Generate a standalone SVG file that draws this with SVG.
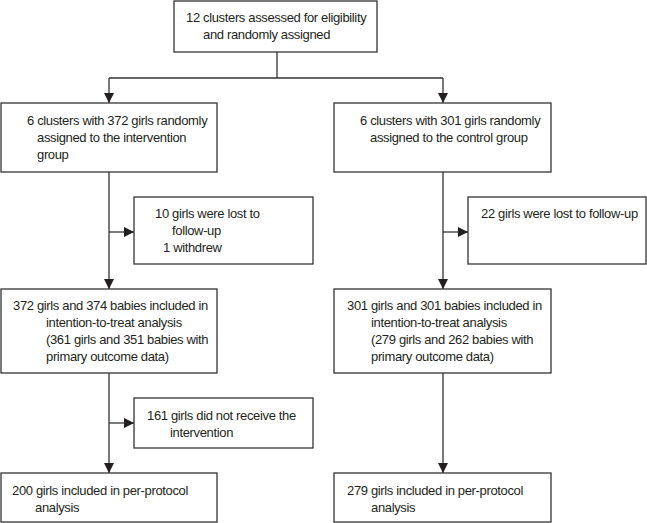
<svg xmlns="http://www.w3.org/2000/svg" width="647" height="523" viewBox="0 0 647 523">
<defs>
<style>
rect{fill:#fff;stroke:#333;stroke-width:1.3}
text{font-family:"Liberation Sans",Arial,sans-serif;font-size:13px;letter-spacing:-0.35px;fill:#231f20}
.c path{fill:none;stroke:#333;stroke-width:1.3}
</style>
<marker id="ah" markerUnits="userSpaceOnUse" markerWidth="11" markerHeight="11" refX="10" refY="5.5" orient="auto">
<path d="M0,0.5 L10,5.5 L0,10.5 z" fill="#231f20"/>
</marker>
</defs>
<g class="c" id="connectors">
<path d="M277,52 V78"/>
<path d="M109,78 H443"/>
<path d="M109,78 V103" marker-end="url(#ah)"/>
<path d="M443,78 V103" marker-end="url(#ah)"/>
<path d="M109,172 V289" marker-end="url(#ah)"/>
<path d="M109,232 H134" marker-end="url(#ah)"/>
<path d="M109,373 V473" marker-end="url(#ah)"/>
<path d="M109,423 H134" marker-end="url(#ah)"/>
<path d="M443,172 V289" marker-end="url(#ah)"/>
<path d="M443,232 H468" marker-end="url(#ah)"/>
<path d="M443,373 V473" marker-end="url(#ah)"/>
</g>
<g id="n-top"><rect x="174" y="1" width="203" height="51"/>
<text x="186" y="22">12 clusters assessed for eligibility</text>
<text x="203" y="39">and randomly assigned</text></g>
<g id="n-int"><rect x="1" y="103" width="216" height="69"/>
<text x="27" y="125">6 clusters with 372 girls randomly</text>
<text x="37" y="142">assigned to the intervention</text>
<text x="37" y="159">group</text></g>
<g id="n-ctl"><rect x="334" y="103" width="217" height="69"/>
<text x="360" y="125">6 clusters with 301 girls randomly</text>
<text x="370" y="142">assigned to the control group</text></g>
<g id="n-lost-int"><rect x="134" y="197" width="179" height="67"/>
<text x="155" y="218">10 girls were lost to</text>
<text x="172" y="235">follow-up</text>
<text x="163" y="252">1 withdrew</text></g>
<g id="n-lost-ctl"><rect x="468" y="197" width="178" height="67"/>
<text x="481" y="218">22 girls were lost to follow-up</text></g>
<g id="n-itt-int"><rect x="1" y="289" width="216" height="84"/>
<text x="13" y="310">372 girls and 374 babies included in</text>
<text x="46" y="327">intention-to-treat analysis</text>
<text x="46" y="344">(361 girls and 351 babies with</text>
<text x="46" y="361">primary outcome data)</text></g>
<g id="n-itt-ctl"><rect x="334" y="289" width="217" height="84"/>
<text x="347" y="310">301 girls and 301 babies included in</text>
<text x="371" y="327">intention-to-treat analysis</text>
<text x="371" y="344">(279 girls and 262 babies with</text>
<text x="371" y="361">primary outcome data)</text></g>
<g id="n-norec"><rect x="134" y="398" width="179" height="50"/>
<text x="147" y="420">161 girls did not receive the</text>
<text x="170" y="437">intervention</text></g>
<g id="n-pp-int"><rect x="1" y="473" width="216" height="49"/>
<text x="12" y="495">200 girls included in per-protocol</text>
<text x="35" y="512">analysis</text></g>
<g id="n-pp-ctl"><rect x="334" y="473" width="217" height="49"/>
<text x="347" y="495">279 girls included in per-protocol</text>
<text x="371" y="512">analysis</text></g>
</svg>
